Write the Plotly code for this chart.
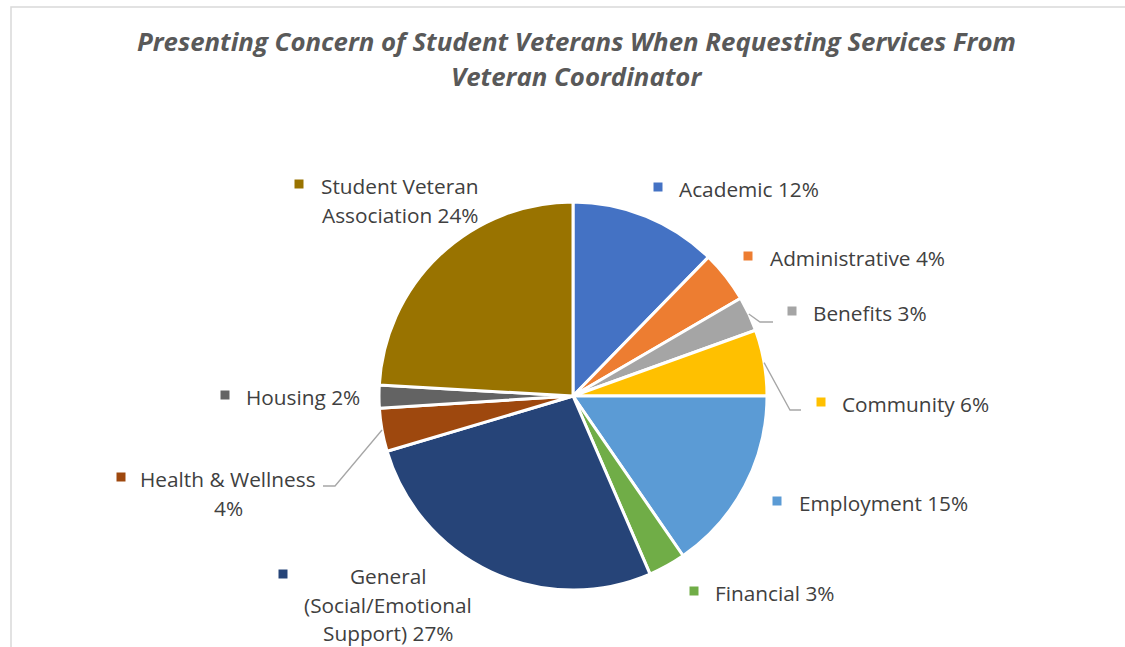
import math
import plotly.graph_objects as go

# ---- data ----
categories = ["Academic", "Administrative", "Benefits", "Community", "Employment",
              "Financial", "General (Social/Emotional Support)", "Health & Wellness",
              "Housing", "Student Veteran Association"]
values = [12.3, 4.3, 2.9, 5.5, 15.4, 3.1, 26.9, 3.6, 1.9, 24.1]
colors = ["#4472C4", "#ED7D31", "#A5A5A5", "#FFC000", "#5B9BD5",
          "#70AD47", "#264478", "#9E480E", "#636363", "#997300"]
title_lines = ["Presenting Concern of Student Veterans When Requesting Services From",
               "Veteran Coordinator"]

# label text split into display lines (name parts); percent appended to last line
label_lines = [
    ["Academic"], ["Administrative"], ["Benefits"], ["Community"], ["Employment"],
    ["Financial"], ["General", "(Social/Emotional", "Support)"], ["Health & Wellness", ""],
    ["Housing"], ["Student Veteran", "Association"],
]

W, H = 1125, 647
CX, CY, R = 573, 396, 194
FONT = "Open Sans"
TXT = "#404040"

total = sum(values)
pcts = [int(v / total * 100 + 0.5) for v in values]

fig = go.Figure()
fig.add_trace(go.Pie(
    labels=categories, values=values, sort=False, direction="clockwise", rotation=0,
    marker=dict(colors=colors, line=dict(color="white", width=3)),
    textinfo="none", hoverinfo="label+percent", showlegend=False,
    domain=dict(x=[(CX - R) / W, (CX + R) / W], y=[1 - (CY + R) / H, 1 - (CY - R) / H]),
))

# invisible pixel-space axes for annotations/shapes
fig.update_xaxes(range=[0, W], visible=False, fixedrange=True)
fig.update_yaxes(range=[H, 0], visible=False, fixedrange=True)

# ---- label layout (pixel positions: key square x, first-line y, text anchor x, align) ----
label_pos = [
    (658, 189, 677, "left"),
    (748, 258, 768, "left"),
    (792, 313, 811, "left"),
    (821, 404, 840, "left"),
    (777, 503, 797, "left"),
    (694, 593, 713, "left"),
    (283, 576, 388, "center"),
    (121, 479, 228, "center"),
    (225, 397, 244, "left"),
    (299, 186, 400, "center"),
]
LINE_H = 28.5

shapes = []
annotations = []
for i, (sx, sy, tx, al) in enumerate(label_pos):
    lines = list(label_lines[i])
    if lines[-1] == "":
        lines[-1] = f"{pcts[i]}%"
    else:
        lines[-1] = f"{lines[-1]} {pcts[i]}%"
    s = 4.5
    shapes.append(dict(type="rect", xref="x", yref="y", x0=sx - s, x1=sx + s,
                       y0=sy - 2 - s, y1=sy - 2 + s, fillcolor=colors[i], line=dict(width=0)))
    for j, ln in enumerate(lines):
        annotations.append(dict(
            x=tx, y=sy + j * LINE_H, xref="x", yref="y", text=ln, showarrow=False,
            xanchor="left" if al == "left" else "center", yanchor="middle",
            font=dict(family=FONT, size=20.8, color=TXT),
        ))

# leader lines: start on slice edge at mid-angle, elbow + end from layout
leaders = {2: [(760, 322), (773, 322)], 3: [(790, 410), (801, 410)], 7: [(335, 486), (323, 486)]}
cum = 0
mids = []
for v in values:
    mids.append((cum + v / 2) / total * 2 * math.pi)
    cum += v
for i, pts in leaders.items():
    a = mids[i]
    x0, y0 = CX + R * math.sin(a), CY - R * math.cos(a)
    path = f"M {x0:.1f} {y0:.1f} L {pts[0][0]} {pts[0][1]} L {pts[1][0]} {pts[1][1]}"
    shapes.append(dict(type="path", xref="x", yref="y", path=path,
                       line=dict(color="#A6A6A6", width=1.3)))

# chart frame (top and left edges visible)
shapes.append(dict(type="path", xref="x", yref="y", path=f"M 11 {H + 5} L 11 7 L {W + 5} 7",
                   line=dict(color="#D9D9D9", width=1.5)))

# title
for j, t in enumerate(title_lines):
    annotations.append(dict(
        x=576, y=41 + j * 35, xref="x", yref="y", text=f"<b><i>{t}</i></b>", showarrow=False,
        xanchor="center", yanchor="middle", font=dict(family=FONT, size=25.8, color="#595959"),
    ))

fig.update_layout(
    width=W, height=H, margin=dict(l=0, r=0, t=0, b=0),
    paper_bgcolor="white", plot_bgcolor="white",
    shapes=shapes, annotations=annotations,
)
fig.write_html("out.html")
